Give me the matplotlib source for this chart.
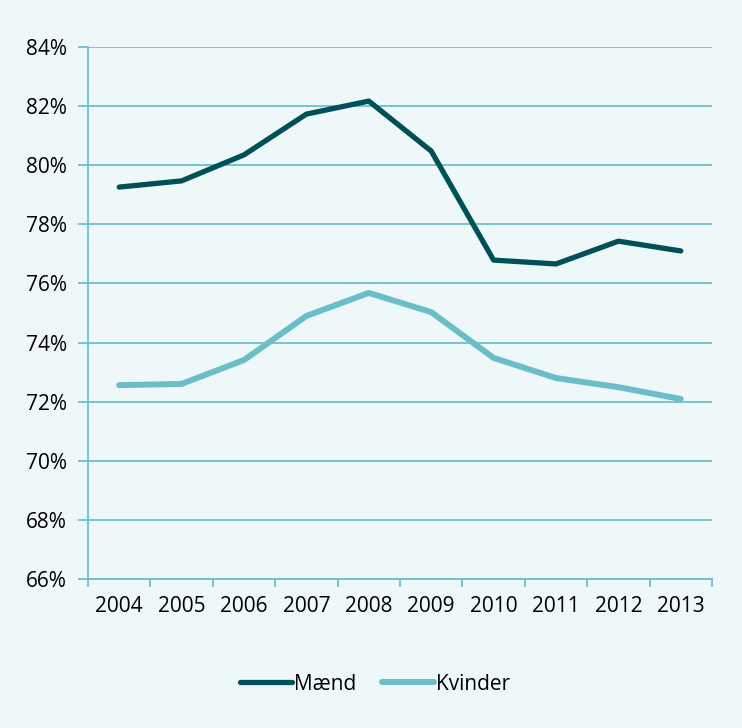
import numpy as np
import matplotlib.pyplot as plt
from matplotlib.ticker import FixedLocator, FuncFormatter

# -----------------------------
# Data
# -----------------------------
years = ["2004", "2005", "2006", "2007", "2008", "2009", "2010", "2011", "2012", "2013"]
maend = [79.26, 79.47, 80.35, 81.73, 82.17, 80.48, 76.79, 76.66, 77.43, 77.10]
kvinder = [72.56, 72.60, 73.41, 74.90, 75.68, 75.03, 73.48, 72.80, 72.49, 72.09]

# -----------------------------
# Style
# -----------------------------
bg = "#eff8f9"
grid_col = "#6dbfca"
dark = "#00505a"
light = "#6bbec8"
plt.rcParams["font.family"] = ["Open Sans", "DejaVu Sans"]

fig = plt.figure(figsize=(7.42, 7.28), dpi=100, facecolor=bg)
ax = fig.add_axes([88 / 742, 149 / 728, 624 / 742, 532 / 728], facecolor=bg)

x = np.arange(len(years))
ax.plot(x, maend, color=dark, lw=3.8, solid_capstyle="round", solid_joinstyle="round", label="Mænd", zorder=3)
ax.plot(x, kvinder, color=light, lw=4.3, solid_capstyle="round", solid_joinstyle="round", label="Kvinder", zorder=3)

ax.set_xlim(-0.5, len(years) - 0.5)
ax.set_ylim(66, 84)

# y ticks + grid
ax.set_yticks(np.arange(66, 85, 2))
ax.yaxis.set_major_formatter(FuncFormatter(lambda v, p: f"{v:.0f}%"))
ax.grid(axis="y", color=grid_col, lw=1.3, zorder=1)

# x labels at centres, tick marks at boundaries
ax.set_xticks(x)
ax.set_xticklabels(years)
ax.tick_params(axis="x", which="major", length=0, pad=12)
ax.xaxis.set_minor_locator(FixedLocator(np.arange(-0.5, len(years), 1)))
ax.tick_params(axis="x", which="minor", length=6, width=1.3, color=grid_col)
ax.tick_params(axis="y", length=7, width=1.3, color=grid_col, pad=8)
ax.tick_params(labelsize=15, labelcolor="black")

for s in ["top", "right"]:
    ax.spines[s].set_visible(False)
for s in ["left", "bottom"]:
    ax.spines[s].set_color(grid_col)
    ax.spines[s].set_linewidth(1.3)

leg = fig.legend(
    loc="center", bbox_to_anchor=(375 / 742, 1 - 684 / 728), ncol=2, frameon=False,
    fontsize=15, handlelength=2.5, handletextpad=0.1, columnspacing=1.2,
)

plt.savefig("out.png", dpi=100, facecolor=bg)
